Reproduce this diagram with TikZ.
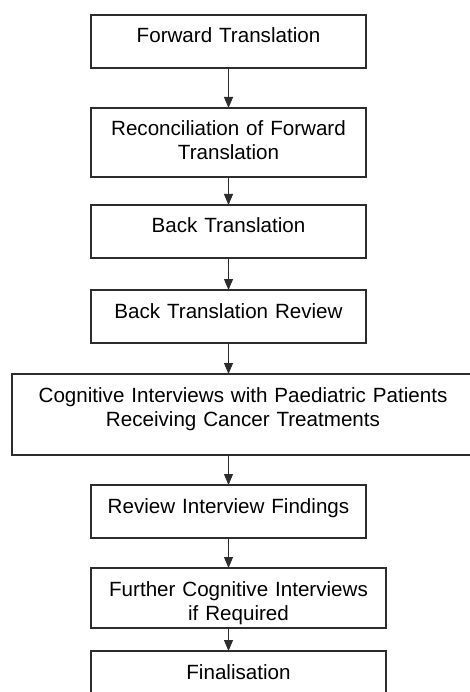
\documentclass[tikz,border=0pt]{standalone}
\usepackage{fontspec}
\setmainfont{Liberation Sans}
\usetikzlibrary{arrows.meta,positioning}
\definecolor{cLine}{RGB}{45,45,45}
\tikzset{
  stepbox/.style={rectangle,draw=cLine,line width=1.4pt,inner xsep=0pt,inner ysep=0pt,
                  outer sep=0pt,align=center,text width=275pt,text height=28pt,text depth=25pt,
                  font=\fontsize{20.6}{24}\selectfont},
  widebox/.style={stepbox,text width=295pt},
  arr/.style={-{Triangle[width=9pt,length=11pt]},line width=1pt,color=cLine}
}

\begin{document}
\begin{tikzpicture}[x=1pt,y=1pt]
  \useasboundingbox (0,0) rectangle (469,-692);

  \node[stepbox,anchor=north west] (fwd) at (91,-15) {Forward Translation};
  \node[stepbox,text depth=41pt,below right=40pt and 0pt of fwd.south west] (recon)
      {Reconciliation of Forward\\Translation};
  \node[stepbox,below right=28pt and 0pt of recon.south west] (back) {Back Translation};
  \node[stepbox,below right=32pt and 0pt of back.south west] (review) {Back Translation Review};
  \node[stepbox,text width=462pt,text depth=53pt,below right=31pt and -79pt of review.south west] (cogint)
      {Cognitive Interviews with Paediatric Patients\\Receiving Cancer Treatments};
  \node[stepbox,below right=30pt and 79pt of cogint.south west] (findings) {Review Interview Findings};
  \node[widebox,text depth=32pt,below right=30pt and 0pt of findings.south west] (further)
      {Further Cognitive Interviews\\if Required};
  \node[widebox,below right=23pt and 0pt of further.south west] (final) {Finalisation};

  \draw[arr] (fwd.south) -- (fwd.south |- recon.north);
  \draw[arr] (recon.south) -- (recon.south |- back.north);
  \draw[arr] (back.south) -- (back.south |- review.north);
  \draw[arr] (review.south) -- (review.south |- cogint.north);
  \draw[arr] (review.south |- cogint.south) -- (findings.north);
  \draw[arr] (findings.south) -- (findings.south |- further.north);
  \draw[arr] (findings.south |- further.south) -- (findings.south |- final.north);

\end{tikzpicture}
\end{document}
